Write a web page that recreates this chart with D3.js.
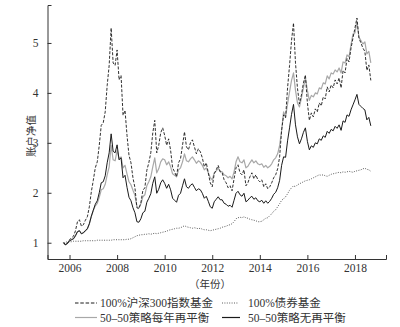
<!DOCTYPE html>
<html><head><meta charset="utf-8">
<script src="https://cdn.jsdelivr.net/npm/d3@7"></script>
<style>body{margin:0;background:#fff}svg{display:block}</style>
</head><body>
<svg id="c" width="400" height="327"></svg>
<script>
// monthly series, first point = October 2005
const startYear = 2005, startMonth = 10;
const xTicks = [2006, 2008, 2010, 2012, 2014, 2016, 2018];
const yTicks = [1, 2, 3, 4, 5];
const seriesNames = ["100%沪深300指数基金", "100%债券基金", "50–50策略每年再平衡", "50–50策略无再平衡"];

const stock = [
 1.00,0.95,0.99,
 1.06,1.10,1.13,1.24,1.42,1.46,1.33,1.36,1.45,1.52,1.72,2.02,
 2.25,2.50,2.62,2.95,3.35,3.40,3.62,4.15,4.55,5.30,4.60,4.55,
 4.86,4.26,4.35,3.55,3.65,3.15,2.75,2.60,2.30,2.10,1.70,1.68,
 1.80,2.05,2.10,2.45,2.60,2.80,3.20,3.45,2.80,2.95,3.20,3.30,
 3.15,2.95,3.08,2.85,2.50,2.42,2.32,2.60,2.68,2.95,3.22,2.92,
 2.86,3.00,3.06,2.92,2.78,2.88,2.82,2.70,2.52,2.60,2.40,2.20,
 2.12,2.38,2.46,2.55,2.42,2.40,2.26,2.20,2.10,2.14,2.04,2.28,
 2.50,2.56,2.40,2.36,2.46,2.14,2.20,2.32,2.40,2.28,2.36,2.26,
 2.22,2.26,2.12,2.18,2.08,2.12,2.20,2.30,2.36,2.48,2.72,3.25,
 3.56,3.50,4.10,4.55,5.05,5.40,4.60,4.09,3.78,3.96,4.20,4.36,
 3.80,3.45,3.60,3.52,3.68,3.62,3.80,3.74,3.92,3.88,4.12,4.02,
 4.16,4.10,4.26,4.18,4.30,4.10,4.45,4.40,4.69,4.62,4.89,5.10,
 5.30,5.50,5.10,5.00,4.90,4.83,4.45,4.56,4.25
];
const bond = [
 1.00,1.01,1.02,
 1.02,1.02,1.03,1.03,1.03,1.03,1.03,1.04,1.04,1.04,1.04,1.04,
 1.04,1.04,1.05,1.05,1.05,1.05,1.05,1.05,1.05,1.05,1.06,1.06,
 1.06,1.06,1.06,1.06,1.06,1.07,1.07,1.08,1.10,1.12,1.14,1.15,
 1.16,1.16,1.17,1.17,1.18,1.17,1.18,1.19,1.18,1.19,1.20,1.21,
 1.22,1.23,1.25,1.26,1.27,1.28,1.29,1.29,1.30,1.32,1.34,1.32,
 1.31,1.30,1.29,1.30,1.29,1.28,1.29,1.27,1.26,1.26,1.25,1.24,
 1.25,1.26,1.27,1.28,1.29,1.31,1.32,1.33,1.35,1.36,1.38,1.42,
 1.48,1.50,1.51,1.50,1.52,1.50,1.49,1.47,1.46,1.45,1.44,1.42,
 1.42,1.43,1.46,1.49,1.50,1.54,1.58,1.63,1.66,1.72,1.78,1.85,
 1.88,1.92,1.98,2.05,2.10,2.14,2.12,2.16,2.18,2.20,2.22,2.24,
 2.25,2.26,2.28,2.30,2.32,2.34,2.36,2.35,2.36,2.34,2.33,2.35,
 2.37,2.38,2.39,2.40,2.41,2.40,2.42,2.41,2.42,2.43,2.42,2.41,
 2.43,2.44,2.45,2.46,2.48,2.49,2.47,2.46,2.43
];
const rebalanced = [
 1.00,0.96,0.99,
 1.04,1.06,1.08,1.14,1.22,1.24,1.18,1.20,1.24,1.28,1.38,1.53,
 1.65,1.74,1.79,1.91,2.06,2.08,2.17,2.36,2.52,2.95,2.66,2.64,
 2.85,2.68,2.72,2.50,2.55,2.38,2.22,2.16,2.05,1.95,1.72,1.70,
 1.78,1.92,1.96,2.14,2.22,2.32,2.52,2.70,2.40,2.48,2.62,2.68,
 2.66,2.56,2.62,2.52,2.38,2.35,2.32,2.46,2.50,2.62,2.78,2.64,
 2.62,2.68,2.72,2.66,2.59,2.64,2.61,2.55,2.46,2.50,2.40,2.30,
 2.26,2.40,2.44,2.49,2.43,2.42,2.36,2.34,2.30,2.33,2.28,2.42,
 2.62,2.72,2.62,2.60,2.66,2.50,2.53,2.60,2.66,2.60,2.64,2.58,
 2.56,2.58,2.51,2.55,2.50,2.53,2.58,2.66,2.70,2.78,2.95,3.25,
 3.62,3.52,3.78,4.02,4.25,4.40,4.05,3.80,3.72,3.90,4.10,4.30,
 4.05,3.85,3.95,3.92,4.00,3.98,4.10,4.08,4.20,4.18,4.34,4.28,
 4.40,4.38,4.46,4.42,4.50,4.40,4.62,4.60,4.76,4.72,4.96,5.18,
 5.20,5.42,5.12,5.05,4.98,5.02,4.78,4.83,4.60
];
const buyHold = [
 1.00,0.96,0.99,
 1.04,1.06,1.08,1.14,1.22,1.24,1.18,1.20,1.24,1.28,1.38,1.53,
 1.65,1.77,1.84,2.00,2.20,2.22,2.34,2.60,2.80,3.18,2.83,2.80,
 2.96,2.66,2.70,2.30,2.35,2.11,1.91,1.84,1.70,1.60,1.42,1.41,
 1.48,1.60,1.63,1.81,1.89,1.98,2.19,2.32,1.99,2.07,2.20,2.26,
 2.19,2.09,2.17,2.06,1.89,1.85,1.81,1.95,1.99,2.14,2.28,2.12,
 2.09,2.15,2.18,2.11,2.04,2.08,2.06,1.99,1.89,1.93,1.83,1.72,
 1.69,1.82,1.87,1.92,1.86,1.86,1.79,1.77,1.73,1.75,1.71,1.85,
 1.99,2.03,1.96,1.93,1.99,1.82,1.85,1.90,1.93,1.87,1.90,1.84,
 1.82,1.85,1.79,1.84,1.79,1.83,1.89,1.97,2.01,2.10,2.25,2.55,
 2.72,2.71,3.04,3.30,3.57,3.77,3.36,3.12,2.98,3.08,3.21,3.30,
 3.03,2.86,2.94,2.91,3.00,2.98,3.08,3.05,3.14,3.11,3.23,3.19,
 3.27,3.24,3.33,3.29,3.36,3.25,3.44,3.41,3.56,3.53,3.66,3.76,
 3.86,3.97,3.77,3.73,3.69,3.66,3.46,3.51,3.34
];

const svg = d3.select("#c");
const x = d3.scaleLinear().domain([2005.074, 2019.305]).range([47.5, 386]);
const y = d3.scaleLinear().domain([0.674, 5.76]).range([259, 5]);
const t = i => startYear + (startMonth - 1 + i) / 12;

const line = d3.line().x((d, i) => x(t(i))).y(d => y(d));

const styles = [
  {data: rebalanced, stroke: "#a8a8a8", width: 1.2, dash: null},
  {data: stock, stroke: "#1a1a1a", width: 0.9, dash: "3,1.6"},
  {data: buyHold, stroke: "#1a1a1a", width: 1.0, dash: null},
  {data: bond, stroke: "#333", width: 0.8, dash: "1,1.4"}
];
styles.forEach(s => {
  svg.append("path").datum(s.data).attr("d", line)
    .attr("fill", "none").attr("stroke", s.stroke)
    .attr("stroke-width", s.width).attr("stroke-dasharray", s.dash)
    .attr("stroke-linejoin", "round");
});

const fontNum = "'Liberation Serif','Noto Sans CJK SC',serif";
const xAxis = svg.append("g").attr("transform", "translate(0,259)")
  .call(d3.axisBottom(x).tickValues(xTicks).tickFormat(d3.format("d"))
    .tickSizeInner(-4).tickSizeOuter(-4).tickPadding(5));
const yAxis = svg.append("g").attr("transform", "translate(47.5,0)")
  .call(d3.axisLeft(y).tickValues(yTicks).tickFormat(d3.format("d"))
    .tickSizeInner(-4).tickSizeOuter(-4).tickPadding(9));
[xAxis, yAxis].forEach(g => {
  g.selectAll("path,line").attr("stroke", "#333");
  g.selectAll("text").attr("font-family", fontNum).attr("font-size", 11.5).attr("fill", "#333");
});

svg.append("text").attr("transform", "translate(30,136) rotate(-90)")
  .attr("text-anchor", "middle").attr("dominant-baseline", "central")
  .attr("font-family", "'Noto Sans CJK SC'").attr("font-size", 10.5).attr("fill", "#333")
  .text("账户净值");
svg.append("text").attr("x", 210).attr("y", 288).attr("text-anchor", "middle")
  .attr("font-family", "'Noto Sans CJK SC'").attr("font-size", 10.5).attr("fill", "#333")
  .text("（年份）");

const legend = [
  {name: seriesNames[0], x0: 75, x1: 97, tx: 100, y: 303, stroke: "#1a1a1a", dash: "3.5,1.8", width: 1},
  {name: seriesNames[1], x0: 222, x1: 238, tx: 248, y: 303, stroke: "#333", dash: "1,1.4", width: 0.8},
  {name: seriesNames[2], x0: 75, x1: 97, tx: 100, y: 317.5, stroke: "#a8a8a8", dash: null, width: 1.2},
  {name: seriesNames[3], x0: 222, x1: 240, tx: 248, y: 317.5, stroke: "#1a1a1a", dash: null, width: 1.2}
];
legend.forEach(l => {
  svg.append("line").attr("x1", l.x0).attr("x2", l.x1).attr("y1", l.y).attr("y2", l.y)
    .attr("stroke", l.stroke).attr("stroke-width", l.width).attr("stroke-dasharray", l.dash);
  svg.append("text").attr("x", l.tx).attr("y", l.y).attr("dominant-baseline", "central")
    .attr("font-family", fontNum).attr("font-size", 11.5).attr("fill", "#333").text(l.name);
});
</script>
</body></html>
